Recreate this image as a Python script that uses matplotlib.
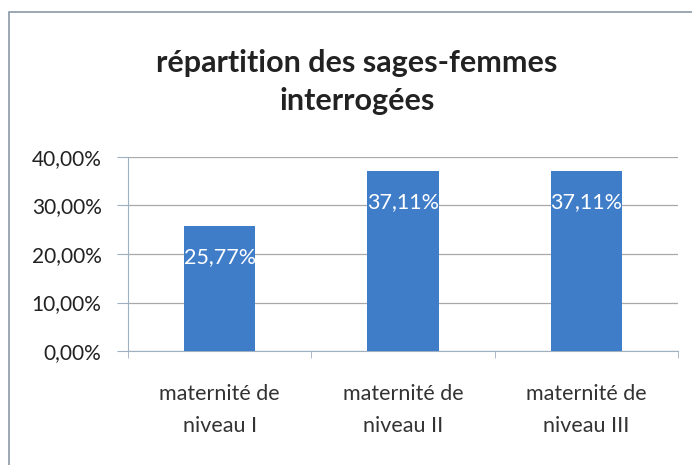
import matplotlib
matplotlib.use("Agg")
import matplotlib.pyplot as plt
from matplotlib.patches import Rectangle
import numpy as np

categories = ["maternité de\nniveau I", "maternité de\nniveau II", "maternité de\nniveau III"]
values = [25.77, 37.11, 37.11]
value_labels = ["25,77%", "37,11%", "37,11%"]
yticks = [0, 10, 20, 30, 40]
ytick_labels = ["0,00%", "10,00%", "20,00%", "30,00%", "40,00%"]
title = "répartition des sages-femmes\ninterrogées"

plt.rcParams['font.family'] = ['Lato', 'DejaVu Sans']

fig = plt.figure(figsize=(6.92, 4.65), dpi=100)
fig.patches.append(Rectangle((9/692, -0.1), 1.2, 1 - 12/465 + 0.1, transform=fig.transFigure,
                             fill=False, edgecolor='#8a9aa8', linewidth=1.2))

ax = fig.add_axes([128/692, 1 - 351/465, 550/692, 194/465])
x = np.arange(len(categories))
bar_color = '#3f7dc9'
ax.bar(x, values, width=0.39, color=bar_color, zorder=3)
ax.set_xlim(-0.5, len(categories) - 0.5)
ax.set_ylim(0, 40)
ax.set_yticks(yticks)
ax.set_yticklabels(ytick_labels, fontsize=15, color='#222222')
ax.yaxis.grid(True, color='#a9a9a9', linewidth=0.9, zorder=0)
ax.set_axisbelow(True)
for s in ['top', 'right']:
    ax.spines[s].set_visible(False)
ax.spines['left'].set_color('#9fb0c0')
ax.spines['bottom'].set_color('#9fb0c0')
ax.tick_params(axis='y', length=8, color='#9fb0c0', pad=11)
ax.set_xticks(x)
ax.set_xticklabels(categories, fontsize=15.5, color='#333333', linespacing=1.75)
ax.tick_params(axis='x', length=0, pad=24)
ax.set_xticks(np.arange(-0.5, len(categories), 1.0), minor=True)
ax.tick_params(axis='x', which='minor', length=5, color='#9fb0c0')

for xi, v, lab in zip(x, values, value_labels):
    ax.text(xi, v - 4.3, lab, ha='center', va='top', color='white', fontsize=15.5, zorder=4)

fig.text(357/692, 1 - 82/465, title, ha='center', va='center', fontsize=22,
         fontweight='bold', color='#222222', linespacing=1.45)

fig.savefig("out.png", dpi=100)
